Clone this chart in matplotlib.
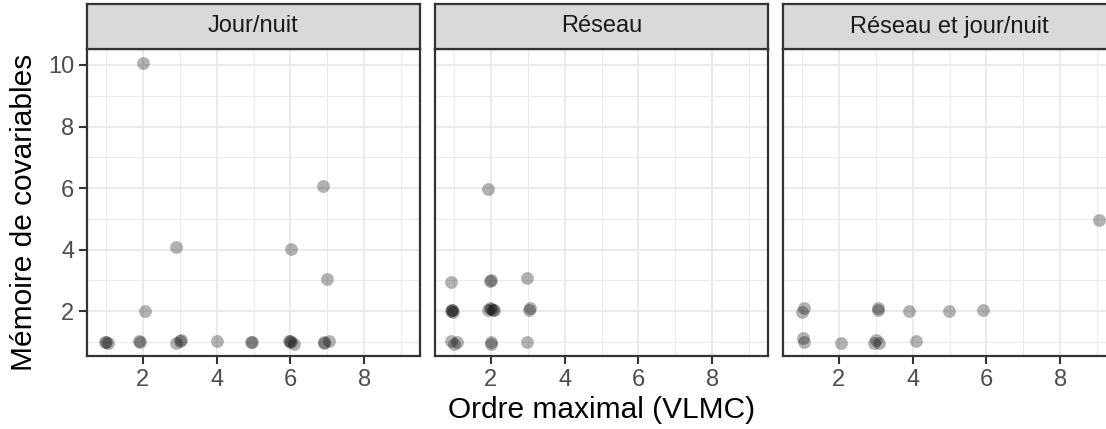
import numpy as np
import matplotlib
matplotlib.use("Agg")
import matplotlib.pyplot as plt

plt.rcParams['font.family'] = ['Liberation Sans', 'DejaVu Sans']

panels = ["Jour/nuit", "Réseau", "Réseau et jour/nuit"]

jour_x = [2.02, 6.89, 2.89, 6.02, 7.0, 2.05, 0.97, 1.06, 1.0, 1.9, 1.93, 3.0, 2.9, 3.03,
          4.02, 4.94, 4.97, 6.0, 5.97, 6.1, 6.02, 6.9, 7.05, 6.92]
jour_y = [10.06, 6.07, 4.07, 4.02, 3.05, 2.01, 0.98, 0.96, 0.99, 1.03, 1.01, 1.03, 0.97, 1.05,
          1.03, 1.0, 0.98, 1.04, 1.02, 0.93, 1.0, 0.98, 1.03, 0.97]

reseau_x = [1.93, 0.92, 2.0, 1.98, 2.97, 0.95, 0.93, 0.97, 0.94, 1.98, 1.93, 2.05, 2.0, 2.08,
            3.06, 3.03, 0.92, 1.08, 1.0, 2.0, 2.02, 2.97]
reseau_y = [5.98, 2.95, 3.02, 2.98, 3.07, 2.05, 2.0, 1.98, 2.03, 2.1, 2.05, 2.02, 2.07, 2.05,
            2.1, 2.04, 1.03, 1.01, 0.93, 1.0, 0.92, 1.0]

both_x = [9.05, 1.0, 1.06, 3.06, 3.05, 3.91, 4.98, 5.92, 1.04, 1.05, 2.06, 2.95, 3.1, 3.0, 4.09]
both_y = [4.96, 1.96, 2.1, 2.02, 2.1, 2.0, 2.0, 2.03, 1.12, 0.98, 0.97, 0.97, 0.95, 1.05, 1.03]

data = [(jour_x, jour_y), (reseau_x, reseau_y), (both_x, both_y)]

W, H = 1106, 429
fig = plt.figure(figsize=(W / 100, H / 100), dpi=100)

# panel geometry in pixels (third panel runs past the right edge, as in the source)
lefts = [87, 435, 783]
pw = 333
top, bottom, strip_top = 49, 356, 4
dark = "#333333"

for i, (name, (xs, ys)) in enumerate(zip(panels, data)):
    ax = fig.add_axes([lefts[i] / W, (H - bottom) / H, pw / W, (bottom - top) / H])
    ax.scatter(xs, ys, s=85, color="black", alpha=0.3, linewidths=0, zorder=3)
    ax.set_xlim(0.49, 9.51)
    ax.set_ylim(0.54, 10.52)
    ax.xaxis.set_major_locator(plt.FixedLocator([2, 4, 6, 8]))
    ax.yaxis.set_major_locator(plt.FixedLocator([2, 4, 6, 8, 10]))
    ax.xaxis.set_minor_locator(plt.FixedLocator([1, 3, 5, 7, 9]))
    ax.yaxis.set_minor_locator(plt.FixedLocator([1, 3, 5, 7, 9]))
    ax.grid(which="major", color="#EBEBEB", linewidth=1.5, zorder=0)
    ax.grid(which="minor", color="#EBEBEB", linewidth=0.75, zorder=0)
    ax.set_axisbelow(True)
    for sp in ax.spines.values():
        sp.set_color(dark)
        sp.set_linewidth(1.6)
    ax.tick_params(which="major", length=6, width=1.5, color=dark,
                   labelsize=17, labelcolor="#4D4D4D", pad=3)
    ax.tick_params(which="minor", length=0)
    if i > 0:
        ax.tick_params(axis="y", which="both", length=0, labelleft=False)

    sax = fig.add_axes([lefts[i] / W, (H - top) / H, pw / W, (top - strip_top) / H])
    sax.set_facecolor("#D9D9D9")
    sax.set_xticks([])
    sax.set_yticks([])
    for sp in sax.spines.values():
        sp.set_color(dark)
        sp.set_linewidth(1.6)
    sax.text(0.5, 0.5, name, ha="center", va="center", fontsize=17,
             color="#1A1A1A", transform=sax.transAxes)

fig.text((lefts[1] + pw / 2) / W, 1 - 410 / H, "Ordre maximal (VLMC)",
         ha="center", va="center", fontsize=21.5)
fig.text(24 / W, 1 - 212 / H, "Mémoire de covariables", rotation=90,
         ha="center", va="center", fontsize=21.5)

fig.savefig("out.png", dpi=100)
